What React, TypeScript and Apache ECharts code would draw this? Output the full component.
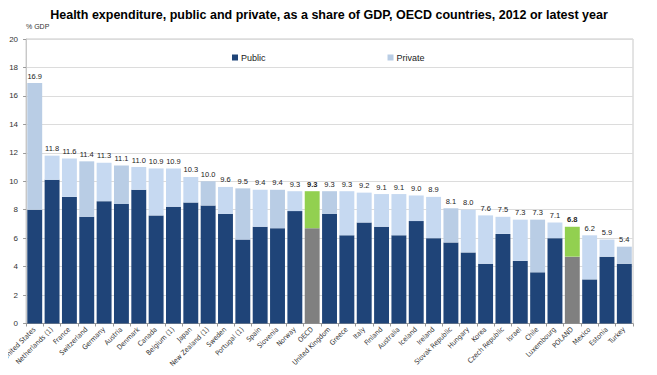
import React, { useEffect, useRef } from "react";
import * as echarts from "echarts";

const categories = [
  "United States", "Netherlands (1)", "France", "Switzerland", "Germany", "Austria",
  "Denmark", "Canada", "Belgium (1)", "Japan", "New Zealand (1)", "Sweden",
  "Portugal (1)", "Spain", "Slovenia", "Norway", "OECD", "United Kingdom", "Greece",
  "Italy", "Finland", "Australia", "Iceland", "Ireland", "Slovak Republic", "Hungary",
  "Korea", "Czech Republic", "Israel", "Chile", "Luxembourg", "POLAND", "Mexico",
  "Estonia", "Turkey",
];

const totalValues = [
  16.9, 11.8, 11.6, 11.4, 11.3, 11.1, 11.0, 10.9, 10.9, 10.3, 10.0, 9.6, 9.5, 9.4, 9.4,
  9.3, 9.3, 9.3, 9.3, 9.2, 9.1, 9.1, 9.0, 8.9, 8.1, 8.0, 7.6, 7.5, 7.3, 7.3, 7.1, 6.8,
  6.2, 5.9, 5.4,
];

const publicValues = [
  8.0, 10.1, 8.9, 7.5, 8.6, 8.4, 9.4, 7.6, 8.2, 8.5, 8.3, 7.7, 5.9, 6.8, 6.7, 7.9, 6.7,
  7.7, 6.2, 7.1, 6.8, 6.2, 7.2, 6.0, 5.7, 5.0, 4.2, 6.3, 4.4, 3.6, 6.0, 4.7, 3.1, 4.7,
  4.2,
];

const yTicks = [0, 2, 4, 6, 8, 10, 12, 14, 16, 18, 20];

const legendLabels = ["Public", "Private"];

// style configuration
const HIGHLIGHT = new Set(["OECD", "POLAND"]);
const DARKER_PRIVATE = new Set([
  "United States", "Switzerland", "Austria", "New Zealand (1)", "Portugal (1)",
  "Slovenia", "United Kingdom", "Slovak Republic", "Chile", "Turkey",
]);

const NAVY = "#1f4478";
const LIGHT = "#c6d9f1";
const LIGHT2 = "#b9cde5";
const GREEN = "#92d050";
const GRAY = "#808080";
const FONT = "Liberation Sans, Arial, sans-serif";
const NARROW = "DejaVu Sans Condensed, Liberation Sans Narrow, Liberation Sans, sans-serif";

export default function App() {
  const ref = useRef<HTMLDivElement>(null);

  useEffect(() => {
    if (!ref.current) return;
    const chart = echarts.init(ref.current, null, { renderer: "svg" });

    const privateValues = totalValues.map((t, i) => +(t - publicValues[i]).toFixed(1));

    const publicData = publicValues.map((v, i) => ({
      value: v,
      itemStyle: { color: HIGHLIGHT.has(categories[i]) ? GRAY : NAVY },
    }));
    const privateData = privateValues.map((v, i) => {
      const c = categories[i];
      return {
        value: v,
        itemStyle: {
          color: HIGHLIGHT.has(c) ? GREEN : DARKER_PRIVATE.has(c) ? LIGHT2 : LIGHT,
        },
        label: { fontWeight: HIGHLIGHT.has(c) ? "bold" : "normal" },
      };
    });

    chart.setOption({
      animation: false,
      textStyle: { fontFamily: FONT },
      title: {
        text: "Health expenditure, public and private, as a share of GDP, OECD countries, 2012 or latest year",
        left: 324,
        textAlign: "center",
        top: 3,
        textStyle: { fontSize: 12.5, fontWeight: "bold", color: "#000", fontFamily: FONT },
      },
      legend: {
        data: [
          { name: legendLabels[0], itemStyle: { color: NAVY } },
          { name: legendLabels[1], itemStyle: { color: LIGHT2 } },
        ],
        left: 227,
        top: 48,
        icon: "rect",
        itemWidth: 6,
        itemHeight: 6,
        itemGap: 122,
        textStyle: { fontSize: 9, color: "#222", padding: [0, 0, 0, -2] },
      },
      graphic: [
        {
          type: "text",
          left: 26,
          top: 23,
          style: { text: "% GDP", fontSize: 7, fill: "#333", fontFamily: FONT },
        },
      ],
      grid: {
        left: 25,
        right: 24,
        top: 39,
        bottom: 51.5,
        show: true,
        borderColor: "#c8c8c8",
        borderWidth: 1,
      },
      xAxis: {
        type: "category",
        data: categories,
        axisLine: { lineStyle: { color: "#9a9a9a" } },
        axisTick: { show: true, length: 3, lineStyle: { color: "#9a9a9a" } },
        axisLabel: {
          rotate: 45,
          fontSize: 7,
          fontFamily: NARROW,
          color: "#333",
          interval: 0,
          margin: 5,
        },
      },
      yAxis: {
        type: "value",
        min: yTicks[0],
        max: yTicks[yTicks.length - 1],
        interval: 2,
        axisLine: { show: true, lineStyle: { color: "#c8c8c8" } },
        axisTick: { show: true, length: 3, lineStyle: { color: "#9a9a9a" } },
        axisLabel: { fontSize: 8, color: "#333", margin: 8 },
        splitLine: { lineStyle: { color: "#dcdcdc" } },
      },
      series: [
        {
          name: legendLabels[0],
          type: "bar",
          stack: "total",
          data: publicData,
          barCategoryGap: "14%",
          itemStyle: { color: NAVY },
        },
        {
          name: legendLabels[1],
          type: "bar",
          stack: "total",
          data: privateData,
          barCategoryGap: "14%",
          itemStyle: { color: LIGHT2 },
          label: {
            show: true,
            position: "top",
            distance: 3,
            fontSize: 7.5,
            color: "#222",
            formatter: (p: any) => totalValues[p.dataIndex].toFixed(1),
          },
        },
      ],
    });

    return () => chart.dispose();
  }, []);

  return <div ref={ref} style={{ width: 657, height: 375, margin: -8 }} />;
}
